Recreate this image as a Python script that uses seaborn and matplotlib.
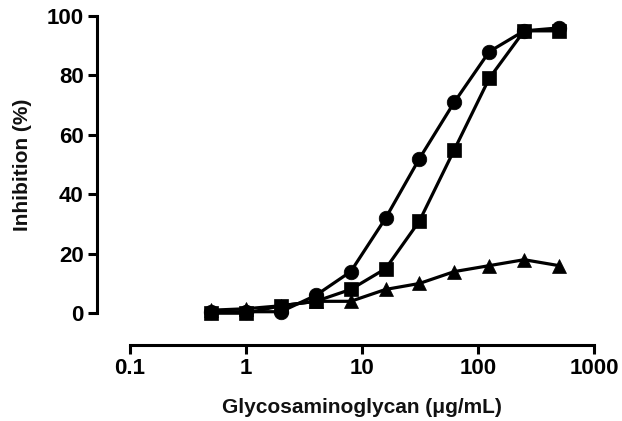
import numpy as np
import pandas as pd
import matplotlib
matplotlib.use("Agg")
import matplotlib.pyplot as plt
import seaborn as sns
from matplotlib.ticker import FixedLocator, FixedFormatter, NullLocator

# ---- data ----
conc = [0.5, 1, 2, 4, 8, 16, 31.25, 62.5, 125, 250, 500]
circles = [0.5, 0.5, 0.5, 6, 14, 32, 52, 71, 88, 95, 96]
squares = [0, 0, 2.5, 4, 8, 15, 31, 55, 79, 95, 95]
triangles = [1, 1.5, 2.5, 4, 4, 8, 10, 14, 16, 18, 16]
x_ticks = [0.1, 1, 10, 100, 1000]
x_tick_labels = ["0.1", "1", "10", "100", "1000"]
y_ticks = [0, 20, 40, 60, 80, 100]

df = pd.DataFrame({
    "conc": conc * 3,
    "inh": triangles + circles + squares,
    "series": ["tri"] * len(conc) + ["circ"] * len(conc) + ["sq"] * len(conc),
})

sns.set_theme(style="ticks")
plt.rcParams["font.family"] = ["Liberation Sans", "DejaVu Sans"]
plt.rcParams["font.weight"] = "bold"

fig = plt.figure(figsize=(6.22, 4.21), dpi=100)
ax = fig.add_axes([97 / 622, 1 - 345 / 421, (594 - 97) / 622, (345 - 16) / 421])

sns.lineplot(
    data=df, x="conc", y="inh", style="series", units="series", estimator=None,
    markers={"tri": "^", "circ": "o", "sq": "s"}, dashes=False, color="black",
    style_order=["tri", "circ", "sq"], sort=True,
    markersize=10.5, linewidth=2.3, markeredgecolor="black", markeredgewidth=0.5,
    legend=False, ax=ax, clip_on=False,
)

ax.set_xscale("log")
ax.set_xlim(10 ** -1.284, 1000)
ax.set_ylim(-10.7, 100)

ax.xaxis.set_major_locator(FixedLocator(x_ticks))
ax.xaxis.set_major_formatter(FixedFormatter(x_tick_labels))
ax.xaxis.set_minor_locator(NullLocator())
ax.set_yticks(y_ticks)

for side in ["top", "right"]:
    ax.spines[side].set_visible(False)
ax.spines["left"].set_bounds(0, 100)
ax.spines["bottom"].set_bounds(0.1, 1000)
for side in ["left", "bottom"]:
    ax.spines[side].set_linewidth(2.2)
    ax.spines[side].set_color("black")
    ax.spines[side].set_capstyle("projecting")

ax.tick_params(axis="both", which="major", length=6.5, width=2.2, color="black",
               labelsize=16, pad=3, labelcolor="black")
for lab in ax.get_xticklabels() + ax.get_yticklabels():
    lab.set_fontweight("bold")

ax.set_xlabel("Glycosaminoglycan (μg/mL)", fontsize=15, fontweight="bold", color="#111111")
ax.set_ylabel("Inhibition (%)", fontsize=15, fontweight="bold", color="#111111")
ax.xaxis.set_label_coords((362 - 97) / 497, (345 - 398) / 329)
ax.yaxis.set_label_coords((32 - 97) / 497, (345 - 165) / 329)

ax.set_facecolor("white")
fig.patch.set_facecolor("white")
fig.savefig("out.png", dpi=100, facecolor="white")
